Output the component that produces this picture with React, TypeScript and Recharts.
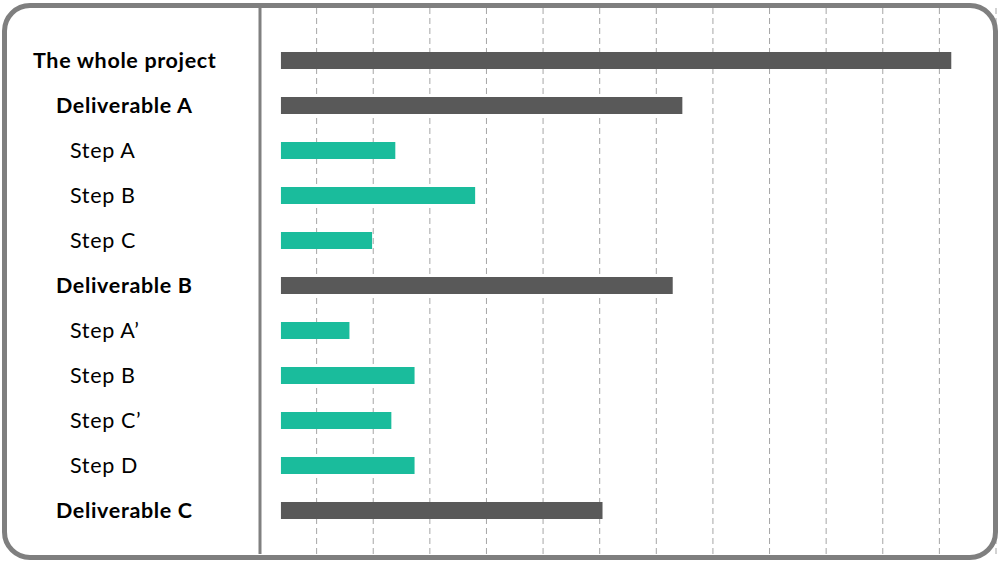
import { Bar, BarChart, CartesianGrid, Cell, XAxis, YAxis } from "recharts";

// Gantt-style breakdown; x units = one grid column
const tasks = [
  "The whole project",
  "Deliverable A",
  "Step A",
  "Step B",
  "Step C",
  "Deliverable B",
  "Step A\u2019",
  "Step B",
  "Step C\u2019",
  "Step D",
  "Deliverable C",
];
const levels = [0, 1, 2, 2, 2, 1, 2, 2, 2, 2, 1];
const starts = [0.37, 0.37, 0.37, 0.37, 0.37, 0.37, 0.37, 0.37, 0.37, 0.37, 0.37];
const ends = [12.21, 7.46, 2.39, 3.8, 1.98, 7.29, 1.58, 2.73, 2.32, 2.73, 6.05];
const gridTicks = [1, 2, 3, 4, 5, 6, 7, 8, 9, 10, 11, 12];

const DARK = "#595959";
const GREEN = "#1abc9c";
const indent = [33, 56, 70];

const rows = tasks.map((name, i) => ({
  id: i,
  name,
  start: starts[i],
  span: ends[i] - starts[i],
}));

function TaskTick({ y, payload }: any) {
  const i = payload.value as number;
  const lvl = levels[i];
  return (
    <text
      x={indent[lvl]}
      y={y}
      dy="0.36em"
      textAnchor="start"
      fontFamily="Lato, 'Noto Sans', sans-serif"
      fontSize={21.5}
      letterSpacing={0.65}
      fontWeight={lvl < 2 ? 700 : 400}
      fill="#000"
    >
      {tasks[i]}
    </text>
  );
}

export default function App() {
  return (
    <div
      style={{
        position: "absolute",
        left: 0,
        top: 0,
        width: 1000,
        height: 563,
        background: "#fff",
      }}
    >
      <BarChart
        width={1000}
        height={563}
        data={rows}
        layout="vertical"
        margin={{ top: 8, right: 4, bottom: 9, left: 0 }}
        barSize={17}
      >
        <CartesianGrid horizontal={false} stroke="#a6a6a6" strokeDasharray="6 4" />
        <XAxis type="number" domain={[0, 13]} ticks={gridTicks} hide />
        <YAxis
          type="category"
          dataKey="id"
          width={260}
          padding={{ top: 30, bottom: 21 }}
          axisLine={{ stroke: "#808080", strokeWidth: 3 }}
          tickLine={false}
          tick={<TaskTick />}
          interval={0}
        />
        <Bar dataKey="start" stackId="g" fill="transparent" isAnimationActive={false} />
        <Bar dataKey="span" stackId="g" isAnimationActive={false}>
          {rows.map((r) => (
            <Cell key={r.id} fill={levels[r.id] < 2 ? DARK : GREEN} />
          ))}
        </Bar>
      </BarChart>
      <div
        style={{
          position: "absolute",
          left: 2,
          top: 3,
          width: 996,
          height: 557,
          boxSizing: "border-box",
          border: "5px solid #7f7f7f",
          borderRadius: 28,
          pointerEvents: "none",
        }}
      />
    </div>
  );
}
